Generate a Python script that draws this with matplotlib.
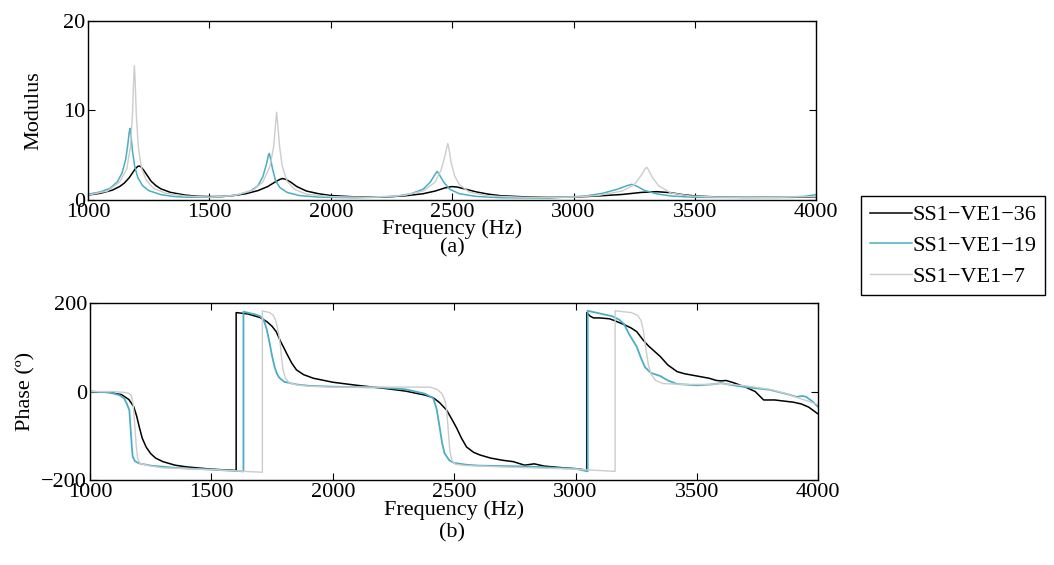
import matplotlib
matplotlib.use("Agg")
import matplotlib.pyplot as plt

plt.rcParams['font.family'] = ['Liberation Serif', 'DejaVu Serif']
plt.rcParams['font.size'] = 16
plt.rcParams['axes.unicode_minus'] = True

labels = ['SS1\u2212VE1\u221236', 'SS1\u2212VE1\u221219', 'SS1\u2212VE1\u22127']
colors = ['#000000', '#4aaec4', '#cccccc']
xticks = [1000, 1500, 2000, 2500, 3000, 3500, 4000]

# modulus
mod_f_36 = [1000, 1050, 1100, 1130, 1150, 1170, 1185, 1195, 1205, 1211, 1218, 1230,
            1245, 1260, 1280, 1300, 1340, 1400, 1450, 1500, 1550,
            1600, 1650, 1700, 1740, 1770, 1790, 1801, 1815, 1835, 1860, 1900, 1950,
            2000, 2100, 2200,
            2300, 2380, 2430, 2470, 2499, 2520, 2550, 2600, 2650, 2700, 2800, 2900, 3000,
            3100, 3200, 3280, 3343, 3400, 3450, 3500, 3600, 3700, 3800, 3900, 4000]
mod_v_36 = [0.55, 0.75, 1.1, 1.5, 1.9, 2.5, 3.1, 3.5, 3.75, 3.8, 3.7, 3.3,
            2.7, 2.1, 1.6, 1.25, 0.85, 0.55, 0.42, 0.38, 0.4,
            0.5, 0.7, 1.05, 1.5, 2.0, 2.3, 2.4, 2.3, 2.0, 1.5, 1.0, 0.7,
            0.5, 0.35, 0.32,
            0.45, 0.7, 1.0, 1.35, 1.5, 1.45, 1.25, 0.9, 0.65, 0.48, 0.35, 0.3, 0.32,
            0.45, 0.62, 0.85, 0.93, 0.82, 0.6, 0.45, 0.33, 0.3, 0.3, 0.3, 0.35]

mod_f_19 = [1000, 1050, 1090, 1120, 1140, 1155, 1163, 1170, 1173, 1177, 1183, 1192,
            1205, 1225, 1250, 1300, 1350, 1400, 1500,
            1550, 1620, 1670, 1700, 1720, 1735, 1743, 1747, 1752, 1760, 1772, 1790,
            1820, 1870, 1950, 2100,
            2250, 2330, 2380, 2410, 2428, 2438, 2448, 2465, 2490, 2530, 2600, 2700, 2900,
            3050, 3120, 3180, 3220, 3240, 3260, 3290, 3340, 3400, 3500, 3700, 3850,
            3950, 4000]
mod_v_19 = [0.65, 0.9, 1.3, 2.0, 3.0, 4.5, 6.0, 7.6, 8.0, 7.2, 5.5, 3.8,
            2.5, 1.6, 1.05, 0.6, 0.4, 0.32, 0.3,
            0.35, 0.6, 1.0, 1.6, 2.6, 4.0, 5.0, 5.2, 4.6, 3.5, 2.2, 1.4,
            0.85, 0.5, 0.32, 0.25,
            0.35, 0.7, 1.2, 2.0, 2.8, 3.2, 2.8, 2.0, 1.2, 0.7, 0.4, 0.25, 0.22,
            0.45, 0.75, 1.2, 1.6, 1.75, 1.55, 1.1, 0.7, 0.45, 0.3, 0.28, 0.3,
            0.4, 0.6]

mod_f_7 = [1000, 1080, 1130, 1160, 1175, 1183, 1188, 1191, 1194, 1199, 1207, 1220,
           1240, 1270, 1320, 1400, 1500,
           1600, 1680, 1720, 1750, 1765, 1772, 1777, 1782, 1789, 1800, 1820, 1850,
           1900, 2000, 2150,
           2300, 2380, 2430, 2455, 2470, 2478, 2482, 2487, 2495, 2510, 2530, 2570,
           2650, 2800, 3000,
           3100, 3200, 3250, 3280, 3295, 3302, 3310, 3325, 3350, 3400, 3480, 3600,
           3800, 4000]
mod_v_7 = [0.55, 1.0, 2.0, 3.5, 6.0, 9.5, 13.5, 15.0, 13.5, 9.5, 6.0, 3.6,
           2.2, 1.3, 0.75, 0.45, 0.32,
           0.5, 1.1, 2.0, 3.8, 6.0, 8.3, 9.8, 8.3, 6.0, 3.8, 2.1, 1.2,
           0.65, 0.38, 0.3,
           0.5, 1.0, 2.0, 3.4, 4.9, 5.9, 6.3, 5.7, 4.3, 2.7, 1.7, 0.9,
           0.45, 0.3, 0.32,
           0.5, 1.0, 1.7, 2.8, 3.5, 3.65, 3.3, 2.5, 1.6, 0.8, 0.45, 0.32,
           0.3, 0.38]

# phase
ph_f_36 = [1000, 1080, 1130, 1160, 1180, 1192, 1203, 1215, 1231, 1250, 1270, 1300,
           1350, 1400, 1500, 1602,
           1602, 1650, 1700, 1730, 1750, 1767, 1785, 1800, 1809, 1830, 1850, 1880,
           1920, 2000, 2100, 2200, 2300, 2380, 2414, 2440, 2469, 2490, 2510, 2530,
           2551, 2580, 2606, 2650, 2700, 2743, 2790, 2830, 2870, 2950, 3000, 3046,
           3046, 3060, 3074, 3100, 3140, 3160, 3200, 3230, 3252, 3280, 3300, 3349,
           3380, 3418, 3450, 3500, 3550, 3580, 3600, 3620, 3650, 3700, 3740, 3775,
           3820, 3897, 3930, 3960, 4000]
ph_v_36 = [0, -2, -7, -18, -34, -55, -80, -105, -125, -140, -150, -158,
           -166, -170, -175, -178,
           178, 175, 167, 157, 147, 135, 113, 97, 87, 65, 49, 38,
           30, 21, 14, 8, 1, -8, -14, -25, -42, -62, -82, -105,
           -125, -137, -143, -150, -155, -158, -166, -163, -168, -172, -174, -177,
           178, 170, 166, 166, 164, 160, 151, 143, 135, 115, 103, 79,
           60, 45, 40, 35, 30, 25, 24, 25, 20, 10, 0, -19,
           -19, -24, -28, -35, -51]

ph_f_19 = [1000, 1080, 1120, 1140, 1152, 1162, 1168, 1173, 1176, 1185, 1203, 1250,
           1350, 1500, 1632,
           1632, 1680, 1700, 1715, 1728, 1740, 1750, 1760, 1770, 1780, 1800, 1850,
           1900, 2000, 2200, 2300, 2380, 2414, 2428, 2440, 2450, 2460, 2480, 2500,
           2550, 2600, 2800, 3000, 3050,
           3050, 3100, 3150, 3180, 3200, 3220, 3252, 3270, 3286, 3310, 3349, 3380,
           3418, 3500, 3560, 3600, 3650, 3700, 3800, 3880, 3910, 3935, 3950, 3975,
           4000]
ph_v_19 = [0, -2, -8, -15, -28, -42, -90, -130, -147, -157, -162, -167,
           -172, -176, -180,
           180, 174, 170, 162, 140, 109, 80, 56, 40, 31, 22, 16,
           13, 11, 9, 5, -5, -15, -40, -80, -115, -139, -155, -161,
           -165, -167, -169, -174, -180,
           182, 176, 170, 162, 152, 130, 101, 75, 55, 42, 35, 25,
           17, 14, 16, 19, 14, 10, 4, -7, -12, -10, -12, -22,
           -35]

ph_f_7 = [1000, 1100, 1140, 1160, 1170, 1178, 1185, 1190, 1196, 1205, 1250, 1300,
          1500, 1710,
          1710, 1740, 1755, 1765, 1774, 1780, 1785, 1790, 1795, 1805, 1820, 1850,
          1900, 2000, 2300, 2400, 2430, 2450, 2462, 2469, 2476, 2482, 2490, 2505,
          2550, 2700, 3000, 3163,
          3163, 3230, 3255, 3270, 3280, 3290, 3300, 3312, 3330, 3360, 3450, 3550,
          3600, 3700, 3800, 3870, 3920, 3960, 4000]
ph_v_7 = [0, 0, -2, -4, -8, -30, -80, -120, -150, -162, -168, -172,
          -176, -182,
          182, 178, 172, 160, 139, 120, 100, 72, 49, 30, 20, 15,
          12, 10, 10, 10, 5, -5, -20, -42, -90, -132, -155, -164,
          -167, -170, -175, -180,
          182, 178, 172, 160, 135, 95, 60, 38, 25, 18, 16, 16,
          18, 13, 5, -5, -15, -22, -30]


def style_axes(ax):
    ax.tick_params(direction='in', top=True, right=True, length=5, width=0.8, pad=2)
    for sp in ax.spines.values():
        sp.set_linewidth(1.0)


def main():
    fig = plt.figure(figsize=(10.54, 5.65), dpi=100)

    ax1 = fig.add_axes([0.0835, 0.646, 0.691, 0.317])
    ax1.plot(mod_f_36, mod_v_36, color=colors[0], lw=1.1, label=labels[0])
    ax1.plot(mod_f_19, mod_v_19, color=colors[1], lw=1.1, label=labels[1])
    ax1.plot(mod_f_7, mod_v_7, color=colors[2], lw=1.0, label=labels[2])
    ax1.set_xlim(1000, 4000)
    ax1.set_ylim(0, 20)
    ax1.set_xticks(xticks)
    ax1.set_yticks([0, 10, 20])
    ax1.set_ylabel('Modulus', labelpad=14)
    ax1.set_xlabel('Frequency (Hz)', labelpad=-2)
    style_axes(ax1)

    ax2 = fig.add_axes([0.0854, 0.150, 0.691, 0.314])
    ax2.plot(ph_f_36, ph_v_36, color=colors[0], lw=1.1)
    ax2.plot(ph_f_19, ph_v_19, color=colors[1], lw=1.3)
    ax2.plot(ph_f_7, ph_v_7, color=colors[2], lw=1.0)
    ax2.set_xlim(1000, 4000)
    ax2.set_ylim(-200, 200)
    ax2.set_xticks(xticks)
    ax2.set_yticks([-200, 0, 200])
    ax2.set_ylabel('Phase (\u00ba)', labelpad=4)
    ax2.set_xlabel('Frequency (Hz)', labelpad=-1)
    style_axes(ax2)

    fig.text(0.429, 1 - 248 / 565, '(a)', ha='center', va='center')
    fig.text(0.429, 1 - 533 / 565, '(b)', ha='center', va='center')

    leg = fig.legend(loc='upper left', bbox_to_anchor=(861 / 1054, 1 - 196 / 565),
                     borderaxespad=0, fancybox=False, edgecolor='black',
                     handlelength=1.9, handletextpad=0.0, labelspacing=0.45,
                     borderpad=0.4, framealpha=1)
    leg.get_frame().set_linewidth(1.0)

    fig.savefig('out.png', dpi=100)


if __name__ == '__main__':
    main()
